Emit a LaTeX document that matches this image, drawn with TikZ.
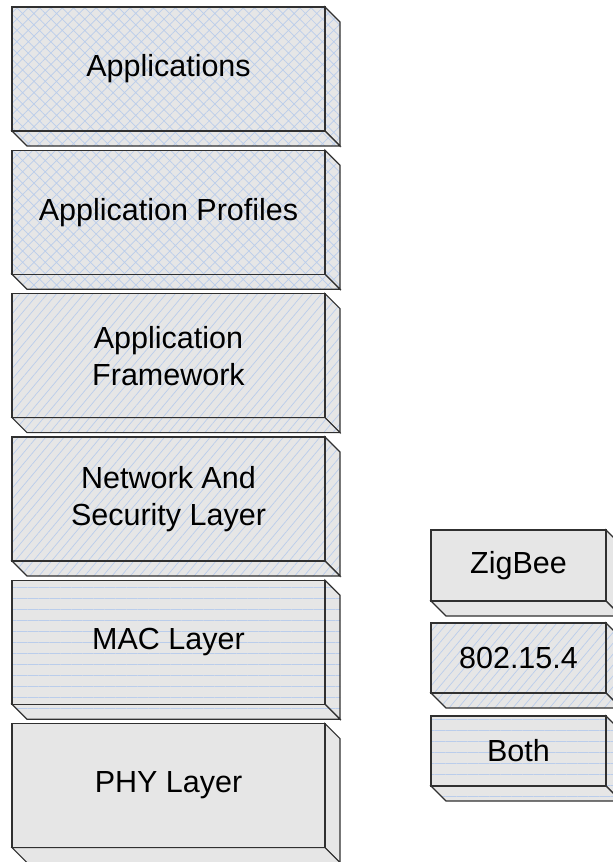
\documentclass[tikz,border=0pt]{standalone}
\usepackage{fontspec}
\setmainfont{Liberation Sans}
\usetikzlibrary{patterns.meta}
\definecolor{boxgray}{HTML}{E6E6E6}
\definecolor{patblue}{HTML}{BACDEB}
\definecolor{edgecol}{HTML}{303030}
\tikzset{
  face/.style={draw=edgecol, line width=1.2pt, line join=miter},
  plainfill/.style={fill=boxgray},
  crossfill/.style={preaction={fill=boxgray}, pattern={Hatch[angle=45,distance=8pt,line width=0.7pt]}, pattern color=patblue},
  diagfill/.style={preaction={fill=boxgray}, pattern={Lines[angle=50,distance=7pt,line width=0.7pt]}, pattern color=patblue},
  horizfill/.style={preaction={fill=boxgray}, pattern={Lines[angle=0,distance=11pt,line width=0.7pt]}, pattern color=patblue},
  lbl/.style={align=center, text=black, inner sep=0pt, font=\fontsize{30.5}{37}\selectfont},
}
% #1 name, #2 x, #3 y, #4 w, #5 h, #6 depth, #7 style, #8 text
\newcommand\layerbox[8]{%
  \path[face,#7] (#2+#4,#3) -- ++(#6,#6) -- ++(0,#5) -- ++(-#6,-#6) -- cycle;
  \path[face,#7] (#2,#3+#5) -- ++(#4,0) -- ++(#6,#6) -- ++(-#4,0) -- cycle;
  \path[face,#7] (#2,#3) rectangle ++(#4,#5);
  \node[lbl] (#1) at (#2+#4/2,#3+#5/2) {#8};
}
\begin{document}
\begin{tikzpicture}[x=1pt,y=-1pt]
\useasboundingbox (0,0) rectangle (613,862);
\layerbox{apps}{12}{7}{313}{124}{15}{crossfill}{Applications}
\layerbox{profiles}{12}{150.3}{313}{124}{15}{crossfill}{Application Profiles}
\layerbox{framework}{12}{293.6}{313}{124}{15}{diagfill}{Application\\Framework}
\layerbox{network}{12}{437}{313}{124}{15}{diagfill}{Network And\\Security Layer}
\layerbox{mac}{12}{580.3}{313}{124}{15}{horizfill}{MAC Layer}
\layerbox{phy}{12}{723.6}{313}{124}{15}{plainfill}{PHY Layer}
\layerbox{zigbee}{431}{530}{175}{71}{15}{plainfill}{ZigBee}
\layerbox{ieee}{431}{623}{175}{70}{15}{diagfill}{802.15.4}
\layerbox{both}{431}{716}{175}{70}{15}{horizfill}{Both}
\end{tikzpicture}
\end{document}
